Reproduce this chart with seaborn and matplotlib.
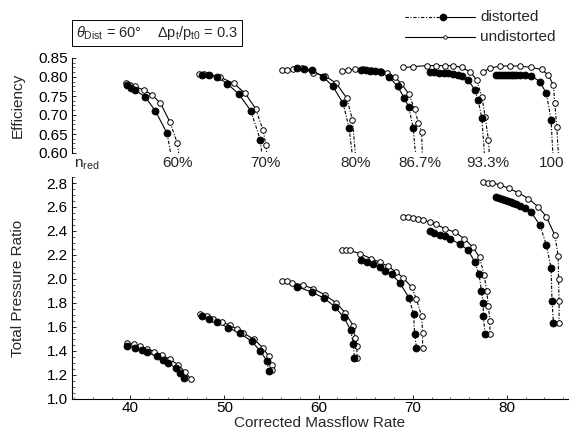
import matplotlib
matplotlib.use("Agg")
import matplotlib.pyplot as plt
from matplotlib.lines import Line2D
from matplotlib.ticker import MultipleLocator, FormatStrFormatter
import numpy as np
import seaborn as sns

# speed lines (reduced speed n_red)
speeds = ["60%", "70%", "80%", "86.7%", "93.3%", "100"]
speed_label_x = [45.0, 54.3, 63.9, 70.8, 78.0, 84.8]

# ---- efficiency, undistorted / distorted (last point lies below the axis, reached by the dashed choke line)
eff_und_mf = [
    [39.5, 40.0, 40.5, 41.4, 42.3, 43.2, 44.2, 45.0, 45.3],
    [47.3, 47.8, 48.3, 49.5, 51.0, 52.2, 53.3, 54.1, 54.4, 54.6],
    [56.1, 56.6, 57.3, 58.2, 59.45, 60.7, 61.9, 63.0, 63.6, 64.0],
    [62.45, 63.1, 63.9, 64.7, 65.6, 66.5, 67.3, 68.1, 68.8, 69.6, 70.2, 70.6, 70.95, 71.05],
    [69.0, 70.0, 71.5, 72.5, 73.4, 74.3, 75.2, 76.1, 76.8, 77.35, 77.7, 78.05, 78.2],
    [77.5, 78.2, 79.3, 80.3, 81.4, 82.6, 83.7, 84.4, 84.95, 85.1, 85.3, 85.55],
]
eff_und = [
    [0.785, 0.780, 0.775, 0.766, 0.753, 0.731, 0.682, 0.625, 0.57],
    [0.808, 0.808, 0.806, 0.800, 0.783, 0.757, 0.717, 0.660, 0.621, 0.57],
    [0.818, 0.818, 0.821, 0.823, 0.811, 0.803, 0.783, 0.744, 0.687, 0.57],
    [0.817, 0.818, 0.820, 0.820, 0.819, 0.816, 0.810, 0.800, 0.782, 0.755, 0.715, 0.680, 0.656, 0.57],
    [0.825, 0.827, 0.830, 0.830, 0.830, 0.830, 0.825, 0.814, 0.792, 0.748, 0.695, 0.634, 0.57],
    [0.814, 0.823, 0.829, 0.829, 0.829, 0.825, 0.820, 0.805, 0.779, 0.731, 0.669, 0.57],
]
eff_dis_mf = [
    [39.65, 40.1, 40.5, 41.6, 42.65, 43.9, 44.5],
    [47.6, 48.4, 49.2, 50.3, 51.5, 52.8, 53.8, 54.1],
    [57.75, 58.5, 59.3, 60.5, 61.5, 62.6, 63.25, 63.7],
    [64.5, 65.0, 65.5, 66.0, 66.6, 67.5, 68.4, 69.1, 69.6, 70.05, 70.4],
    [71.8, 72.3, 72.8, 73.3, 73.8, 74.3, 74.8, 75.2, 75.9, 76.6, 76.95, 77.35, 77.7],
    [78.9, 79.2, 79.5, 79.8, 80.1, 80.4, 80.7, 81.0, 81.4, 81.9, 82.6, 83.5, 84.2, 84.7, 84.95],
]
eff_dis = [
    [0.779, 0.772, 0.766, 0.747, 0.711, 0.652, 0.57],
    [0.806, 0.805, 0.801, 0.782, 0.756, 0.711, 0.635, 0.57],
    [0.823, 0.822, 0.818, 0.800, 0.776, 0.731, 0.665, 0.57],
    [0.818, 0.818, 0.817, 0.816, 0.814, 0.800, 0.775, 0.745, 0.720, 0.665, 0.57],
    [0.812, 0.812, 0.811, 0.811, 0.810, 0.808, 0.806, 0.803, 0.792, 0.766, 0.740, 0.691, 0.57],
    [0.805, 0.805, 0.805, 0.805, 0.805, 0.805, 0.805, 0.805, 0.805, 0.804, 0.803, 0.788, 0.757, 0.687, 0.57],
]

# ---- total pressure ratio
pr_und_mf = [
    [39.6, 40.35, 41.06, 41.8, 42.5, 43.4, 44.2, 45.1, 45.8, 46.4],
    [47.4, 48.1, 48.8, 49.7, 50.6, 51.3, 52.0, 53.1, 54.1, 54.7, 55.0, 55.1],
    [56.1, 56.6, 57.15, 58.3, 59.45, 60.7, 61.9, 62.8, 63.7, 63.9, 64.05, 64.1],
    [62.45, 62.9, 63.3, 64.4, 65.6, 66.5, 67.4, 68.2, 69.0, 69.9, 70.4, 70.95, 71.05, 71.05],
    [69.0, 69.5, 70.05, 70.6, 71.1, 71.8, 72.5, 73.4, 74.5, 75.5, 76.4, 77.1, 77.6, 77.85, 78.05, 78.2, 78.2],
    [77.5, 78.0, 78.4, 79.3, 80.2, 81.2, 82.3, 83.35, 84.2, 85.1, 85.45, 85.5, 85.55, 85.55],
]
pr_und = [
    [1.47, 1.455, 1.44, 1.42, 1.395, 1.365, 1.33, 1.285, 1.225, 1.17],
    [1.705, 1.69, 1.67, 1.645, 1.613, 1.585, 1.55, 1.50, 1.425, 1.355, 1.285, 1.24],
    [1.985, 1.98, 1.97, 1.95, 1.92, 1.865, 1.80, 1.72, 1.61, 1.51, 1.44, 1.34],
    [2.245, 2.245, 2.24, 2.21, 2.17, 2.14, 2.105, 2.06, 2.01, 1.93, 1.83, 1.69, 1.55, 1.425],
    [2.52, 2.515, 2.505, 2.50, 2.49, 2.475, 2.455, 2.42, 2.39, 2.335, 2.265, 2.18, 2.03, 1.90, 1.775, 1.65, 1.54],
    [2.805, 2.80, 2.80, 2.785, 2.755, 2.72, 2.67, 2.60, 2.52, 2.365, 2.195, 2.00, 1.82, 1.63],
]
pr_dis_mf = [
    [39.65, 40.5, 41.2, 41.8, 42.8, 43.5, 44.0, 44.8, 45.3, 45.75],
    [47.6, 48.4, 49.2, 50.4, 51.7, 52.9, 53.8, 54.5, 54.7],
    [57.75, 59.3, 60.6, 61.7, 62.7, 63.4, 63.7, 63.8],
    [64.5, 65.1, 65.8, 66.5, 67.1, 67.75, 68.6, 69.6, 70.1, 70.2, 70.4],
    [71.8, 72.3, 72.9, 73.4, 74.0, 75.0, 75.9, 76.6, 77.05, 77.3, 77.5, 77.5, 77.7],
    [78.9, 79.2, 79.5, 79.8, 80.1, 80.4, 80.7, 81.0, 81.4, 81.9, 82.6, 83.5, 84.2, 84.7, 84.8, 84.95],
]
pr_dis = [
    [1.445, 1.425, 1.41, 1.39, 1.355, 1.325, 1.30, 1.26, 1.215, 1.175],
    [1.69, 1.665, 1.64, 1.594, 1.546, 1.48, 1.40, 1.32, 1.235],
    [1.935, 1.89, 1.84, 1.77, 1.68, 1.575, 1.455, 1.34],
    [2.16, 2.145, 2.125, 2.10, 2.07, 2.04, 1.97, 1.845, 1.705, 1.545, 1.425],
    [2.40, 2.385, 2.37, 2.355, 2.335, 2.29, 2.24, 2.14, 2.04, 1.90, 1.80, 1.69, 1.54],
    [2.68, 2.672, 2.665, 2.657, 2.65, 2.642, 2.635, 2.625, 2.612, 2.595, 2.555, 2.45, 2.285, 2.09, 1.82, 1.635],
]

sns.set_theme(style="ticks")
plt.rcParams["font.family"] = ["Liberation Sans", "DejaVu Sans"]
plt.rcParams["mathtext.fontset"] = "custom"
plt.rcParams["mathtext.rm"] = "Liberation Sans"
plt.rcParams["mathtext.it"] = "Liberation Sans:italic"

W, H = 572, 430
fig = plt.figure(figsize=(W / 100, H / 100), dpi=100)
ax_eff = fig.add_axes([72 / W, 1 - 153 / H, 496 / W, 95 / H])
ax_pr = fig.add_axes([72 / W, 1 - 399 / H, 496 / W, 222 / H])

XLIM = (33.8, 86.5)
ax_eff.set_xlim(XLIM)
ax_eff.set_ylim(0.60, 0.85)
ax_pr.set_xlim(XLIM)
ax_pr.set_ylim(1.0, 2.85)

LW = 0.8
DASHDOT = (0, (3, 1.5, 1, 1.5))


def draw_curve(ax, xs, ys, filled):
    """Solid line on the flat part, dash-dot on the steep choke part, then markers."""
    xs = np.asarray(xs, float)
    ys = np.asarray(ys, float)
    disp = ax.transData.transform(np.column_stack([xs, ys]))
    d = np.diff(disp, axis=0)
    steep = np.abs(d[:, 1]) > 2.5 * np.abs(d[:, 0])
    start = 0
    for i in range(1, len(steep) + 1):
        if i == len(steep) or steep[i] != steep[start]:
            seg = slice(start, i + 1)
            sns.lineplot(x=xs[seg], y=ys[seg], sort=False, estimator=None, ax=ax,
                         color="black", linewidth=LW,
                         linestyle=DASHDOT if steep[start] else "-")
            start = i
    sns.scatterplot(x=xs, y=ys, ax=ax, marker="o", s=24 if filled else 16,
                    facecolor="black" if filled else "white",
                    edgecolor="black", linewidth=0.7, zorder=4 if filled else 3)


for k in range(len(speeds)):
    draw_curve(ax_eff, eff_und_mf[k], eff_und[k], False)
    draw_curve(ax_eff, eff_dis_mf[k], eff_dis[k], True)
    draw_curve(ax_pr, pr_und_mf[k], pr_und[k], False)
    draw_curve(ax_pr, pr_dis_mf[k], pr_dis[k], True)
    ax_eff.text(speed_label_x[k], 0.573, speeds[k], ha="center", va="center",
                fontsize=11, clip_on=False)

ax_eff.text(34.0, 0.568, r"n$_{\rm red}$", ha="left", va="center", fontsize=11, clip_on=False)

for ax in (ax_eff, ax_pr):
    sns.despine(ax=ax)
    ax.tick_params(direction="in", length=3, width=0.6, labelsize=11, colors="black", pad=3)
    ax.tick_params(which="minor", direction="in", length=1.8, width=0.5)
    ax.set_xlabel("")
    ax.set_ylabel("")
    for s in ax.spines.values():
        s.set_linewidth(0.8)
        s.set_color("black")

ax_eff.spines["bottom"].set_visible(False)
ax_eff.tick_params(axis="x", bottom=False, labelbottom=False, which="both")
ax_eff.yaxis.set_major_locator(MultipleLocator(0.05))
ax_eff.yaxis.set_minor_locator(MultipleLocator(0.0125))
ax_eff.yaxis.set_major_formatter(FormatStrFormatter("%.2f"))

ax_pr.yaxis.set_major_locator(MultipleLocator(0.2))
ax_pr.yaxis.set_minor_locator(MultipleLocator(0.05))
ax_pr.yaxis.set_major_formatter(FormatStrFormatter("%.1f"))
ax_pr.xaxis.set_major_locator(MultipleLocator(10))
ax_pr.xaxis.set_minor_locator(MultipleLocator(2))
ax_pr.tick_params(axis="x", pad=1.5)

fig.text(18 / W, 1 - 105 / H, "Efficiency", rotation=90, ha="center", va="center", fontsize=11)
fig.text(18 / W, 1 - 288 / H, "Total Pressure Ratio", rotation=90, ha="center", va="center", fontsize=11)
fig.text(320 / W, 1 - 423 / H, "Corrected Massflow Rate", ha="center", va="center", fontsize=11)

fig.text(76 / W, 1 - 33 / H,
         r"$\theta_{\rm Dist}$ = 60°    $\Delta$p$_{\rm t}$/p$_{\rm t0}$ = 0.3",
         ha="left", va="center", fontsize=10.5,
         bbox=dict(boxstyle="square,pad=0.25", facecolor="white", edgecolor="black", linewidth=0.7))


# legend, drawn in figure pixels
def fx(px):
    return px / W


def fy(py):
    return 1 - py / H


fig.add_artist(Line2D([fx(405), fx(440)], [fy(17), fy(17)], color="black", lw=LW, linestyle=DASHDOT))
fig.add_artist(Line2D([fx(440), fx(475)], [fy(17), fy(17)], color="black", lw=LW))
fig.add_artist(Line2D([fx(443)], [fy(17)], marker="o", markersize=4.5, color="black"))
fig.text(fx(480), fy(17), "distorted", ha="left", va="center", fontsize=11)

fig.add_artist(Line2D([fx(405), fx(475)], [fy(37), fy(37)], color="black", lw=LW))
fig.add_artist(Line2D([fx(445)], [fy(37)], marker="o", markersize=2.5, color="black",
                      markerfacecolor="white", markeredgewidth=0.6))
fig.text(fx(480), fy(37), "undistorted", ha="left", va="center", fontsize=11)

fig.savefig("out.png", dpi=100, facecolor="white")
